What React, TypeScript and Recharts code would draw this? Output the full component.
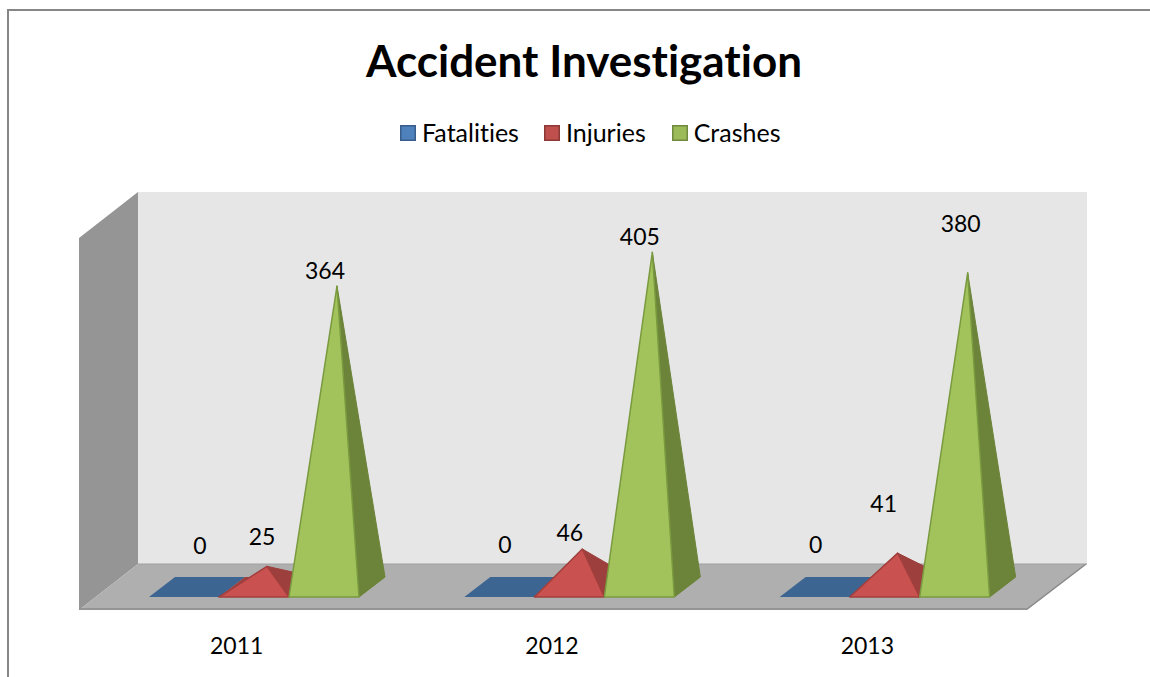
import React from "react";
import { BarChart, Bar, XAxis, YAxis, Legend, LabelList, Customized } from "recharts";

const categories = ["2011", "2012", "2013"];
const fatalities = [0, 0, 0];
const injuries = [25, 46, 41];
const crashes = [364, 405, 380];
const seriesNames = ["Fatalities", "Injuries", "Crashes"];
const chartTitle = "Accident Investigation";

const fatalityLabelShift = [[16, -42], [5.5, -43], [1, -43]];
const injuryLabelShift = [[8, -30], [0.5, -17], [-1, -50]];
const crashLabelShift = [[1, -16], [0.5, -16], [6, -50]];
const legendGaps = [0, 25, 26];

const data = categories.map((year, i) => ({
  year,
  Fatalities: fatalities[i],
  Injuries: injuries[i],
  Crashes: crashes[i],
}));

const FONT = "Lato, 'Open Sans', sans-serif";
const DEPTH_X = 26;
const DEPTH_Y = 20;

const palette: Record<string, { front: string; side: string; base: string; edge: string; swatch: string; swatchEdge: string }> = {
  Fatalities: { front: "#4F81BD", side: "#3D6591", base: "#3D6591", edge: "#38608F", swatch: "#4F81BD", swatchEdge: "#385D8A" },
  Injuries: { front: "#C9514F", side: "#9C3F3D", base: "#9C3F3D", edge: "#A23F3D", swatch: "#C0504D", swatchEdge: "#8C3836" },
  Crashes: { front: "#A2C35C", side: "#6B8439", base: "#6B8439", edge: "#7A9A3F", swatch: "#9BBB59", swatchEdge: "#71893F" },
};

const pyramid = (name: string) => (props: any) => {
  const { x, y, width, height } = props;
  const c = palette[name];
  const base = y + height + DEPTH_Y / 2;
  const apexX = x + width / 2 + DEPTH_X / 2;
  const apex = `${apexX},${y}`;
  const bl = `${x},${base}`;
  const br = `${x + width},${base}`;
  const tr = `${x + width + DEPTH_X},${base - DEPTH_Y}`;
  const tl = `${x + DEPTH_X},${base - DEPTH_Y}`;
  return (
    <g>
      <polygon points={`${bl} ${br} ${tr} ${tl}`} fill={c.base} />
      {height > 0 && <polygon points={`${br} ${tr} ${apex}`} fill={c.side} stroke={c.side} strokeWidth={1} strokeLinejoin="round" />}
      {height > 0 && <polygon points={`${bl} ${br} ${apex}`} fill={c.front} stroke={c.edge} strokeWidth={1.5} strokeLinejoin="round" />}
    </g>
  );
};

const shiftedLabel = (shifts: number[][]) => (props: any) => {
  const { x, y, width, value, index } = props;
  const [dx, dy] = shifts[index];
  return (
    <text x={x + width / 2 + dx} y={y + dy} textAnchor="middle" dominantBaseline="central" fontFamily={FONT} fontSize={23} fill="#000">
      {value}
    </text>
  );
};

const YearTick = (props: any) => {
  const { x, y, payload } = props;
  return (
    <text x={x - 17} y={y + 59} textAnchor="middle" fontFamily={FONT} fontSize={23} fill="#000">
      {payload.value}
    </text>
  );
};

const Backdrop = () => (
  <g>
    <path d="M8 677 V10 H1150" fill="none" stroke="#868686" strokeWidth={2} />
    <text x={584} y={77} textAnchor="middle" fontFamily={FONT} fontWeight={700} fontSize={44} fill="#000" style={{ fontVariantLigatures: "none" }}>
      {chartTitle}
    </text>
    <polygon points="138,192 1087,192 1087,564 138,564" fill="#E6E6E6" />
    <polygon points="79,238 138,192 138,564 79,610" fill="#959595" />
    <polygon points="79,610 138,564 1087,564 1027,610" fill="#AFAFAF" />
    <path d="M79 609 H1027 L1086 564" fill="none" stroke="#8C8C8C" strokeWidth={1.5} />
    <path d="M138 564 H1087" fill="none" stroke="#A0A0A0" strokeWidth={1} />
  </g>
);

const LegendContent = () => (
  <div style={{ display: "flex", alignItems: "center", fontFamily: FONT, fontSize: 25, color: "#000", lineHeight: "26px", whiteSpace: "nowrap", fontVariantLigatures: "none" }}>
    {seriesNames.map((name, i) => (
      <div key={name} style={{ display: "flex", alignItems: "center", marginLeft: legendGaps[i] }}>
        <svg width={16} height={16} style={{ marginRight: 6, position: "relative", top: 1 }}>
          <rect x={0.75} y={0.75} width={14.5} height={14.5} fill={palette[name].swatch} stroke={palette[name].swatchEdge} strokeWidth={1.5} />
        </svg>
        <span>{name}</span>
      </div>
    ))}
  </div>
);

export default function App() {
  return (
    <div style={{ position: "absolute", left: 0, top: 0, width: 1150, height: 677, overflow: "hidden", background: "#fff" }}>
      <BarChart
        width={1150}
        height={677}
        data={data}
        margin={{ top: 215, right: 108, bottom: 30, left: 96 }}
        barSize={70}
        barGap={0}
      >
        <Customized component={Backdrop} />
        <XAxis dataKey="year" height={60} axisLine={false} tickLine={false} tick={<YearTick />} interval={0} />
        <YAxis hide domain={[0, 450]} />
        <Legend
          layout="horizontal"
          align="center"
          verticalAlign="middle"
          content={<LegendContent />}
          wrapperStyle={{ position: "absolute", left: 400, top: 119, width: "auto", bottom: "auto" }}
        />
        <Bar dataKey="Fatalities" isAnimationActive={false} shape={pyramid("Fatalities")}>
          <LabelList dataKey="Fatalities" content={shiftedLabel(fatalityLabelShift)} />
        </Bar>
        <Bar dataKey="Injuries" isAnimationActive={false} shape={pyramid("Injuries")}>
          <LabelList dataKey="Injuries" content={shiftedLabel(injuryLabelShift)} />
        </Bar>
        <Bar dataKey="Crashes" isAnimationActive={false} shape={pyramid("Crashes")}>
          <LabelList dataKey="Crashes" content={shiftedLabel(crashLabelShift)} />
        </Bar>
      </BarChart>
    </div>
  );
}
